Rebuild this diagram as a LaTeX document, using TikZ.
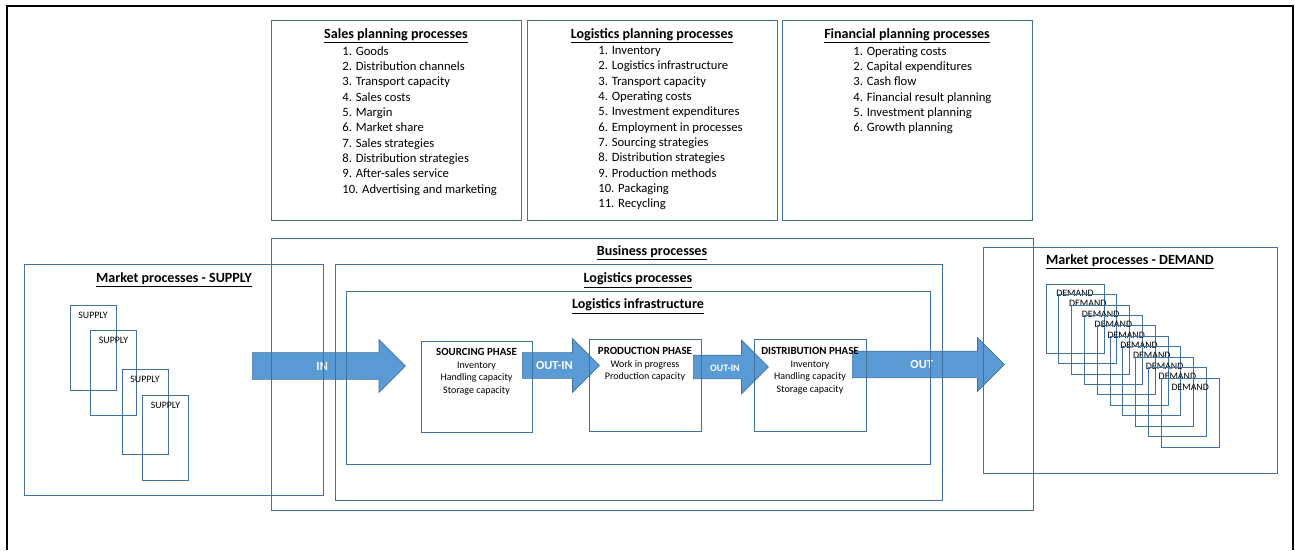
\documentclass[tikz,border=0pt]{standalone}
\usepackage{fontspec}
\setmainfont{Carlito}
\usetikzlibrary{shapes.arrows}

\definecolor{lineblue}{RGB}{65,113,156}
\definecolor{arrowblue}{RGB}{91,155,213}

\tikzstyle{box}=[rectangle,draw=lineblue,line width=0.45pt,inner sep=0pt]
\tikzstyle{title}=[anchor=base,inner sep=0pt,font=\bfseries\fontsize{8}{9.6}\selectfont]
\tikzstyle{items}=[anchor=north west,align=left,inner sep=0pt,font=\fontsize{7.2}{8.72}\selectfont]
\tikzstyle{phase}=[anchor=north,align=center,inner sep=0pt,font=\fontsize{5.7}{7.2}\selectfont]
\tikzstyle{tag}=[anchor=north,inner sep=0pt,font=\fontsize{5.6}{6}\selectfont]
\tikzstyle{flow}=[single arrow,fill=arrowblue,draw=lineblue,line width=0.4pt,anchor=tail,inner xsep=0pt,inner ysep=1.8mm,text height=1.6mm,text depth=0mm,text=white,font=\bfseries\fontsize{7}{8}\selectfont]

\begin{document}
\begin{tikzpicture}[x=0.2mm,y=-0.2mm]
\useasboundingbox (0,0) rectangle (1295,550);
\draw[line width=1.1pt] (7,550) |- (1293,6) -- (1293,550);

% flows between the phases
\node[flow,minimum height=30.6mm,single arrow head extend=2.6mm] (in) at (252,366) {IN};
\node[flow,minimum height=15.4mm,inner ysep=1.7mm,single arrow head extend=2.8mm] (outin1) at (522,365.5) {OUT-IN};
\node[flow,minimum height=15mm,inner ysep=1.5mm,single arrow head extend=3mm,font=\bfseries\fontsize{5.6}{6}\selectfont] (outin2) at (693,367) {OUT-IN};
\node[flow,minimum height=30.4mm,single arrow head extend=2.7mm] (out) at (852,364.5) {OUT};

% planning processes
\node[box,minimum width=50mm,minimum height=40mm] (sales) at (396,120) {};
\node[title] (salesT) at (396,38) {\underline{Sales planning processes}};
\node[items] (salesL) at (342,46) {1. Goods\\2. Distribution channels\\3. Transport capacity\\4. Sales costs\\5. Margin\\6. Market share\\7. Sales strategies\\8. Distribution strategies\\9. After-sales service\\10. Advertising and marketing};

\node[box,minimum width=50mm,minimum height=40mm] (logplan) at (652,120) {};
\node[title] (logplanT) at (652,38) {\underline{Logistics planning processes}};
\node[items] (logplanL) at (598,46) {1. Inventory\\2. Logistics infrastructure\\3. Transport capacity\\4. Operating costs\\5. Investment expenditures\\6. Employment in processes\\7. Sourcing strategies\\8. Distribution strategies\\9. Production methods\\10. Packaging\\11. Recycling};

\node[box,minimum width=50mm,minimum height=40mm] (finplan) at (907,120) {};
\node[title] (finplanT) at (907,38) {\underline{Financial planning processes}};
\node[items] (finplanL) at (853,46) {1. Operating costs\\2. Capital expenditures\\3. Cash flow\\4. Financial result planning\\5. Investment planning\\6. Growth planning};

% nested process boxes
\node[box,minimum width=152.4mm,minimum height=54.4mm] (business) at (652,374) {};
\node[title] (businessT) at (652,255) {\underline{Business processes}};
\node[box,minimum width=121.4mm,minimum height=47.2mm] (logistics) at (638.5,382) {};
\node[title] (logisticsT) at (638,282) {\underline{Logistics processes}};
\node[box,minimum width=116.8mm,minimum height=34.6mm] (infra) at (638,377.5) {};
\node[title] (infraT) at (638,308) {\underline{Logistics infrastructure}};

\node[box,minimum width=22.2mm,minimum height=18.2mm] (sourcing) at (476.5,386.5) {};
\node[phase] (sourcingT) at (476.5,348) {\textbf{\fontsize{6.2}{7.2}\selectfont SOURCING PHASE}\\Inventory\\Handling capacity\\Storage capacity};
\node[box,minimum width=22.4mm,minimum height=18.4mm] (production) at (645,385) {};
\node[phase] (productionT) at (645,347) {\textbf{\fontsize{6.2}{7.2}\selectfont PRODUCTION PHASE}\\Work in progress\\Production capacity};
\node[box,minimum width=22.4mm,minimum height=18.4mm] (distribution) at (810,385) {};
\node[phase] (distributionT) at (810,347) {\textbf{\fontsize{6.2}{7.2}\selectfont DISTRIBUTION PHASE}\\Inventory\\Handling capacity\\Storage capacity};

% market side
\node[box,minimum width=59.8mm,minimum height=46.2mm] (supply) at (173.5,379.5) {};
\node[title] (supplyT) at (174,282) {\underline{Market processes - SUPPLY}};
\node[box,minimum width=9.2mm,minimum height=17mm,label={[tag,yshift=-1.4mm]north:SUPPLY}] (s1) at (93,347.5) {};
\node[box,minimum width=9.2mm,minimum height=17mm,label={[tag,yshift=-1.4mm]north:SUPPLY}] (s2) at (113.5,373) {};
\node[box,minimum width=9.2mm,minimum height=17mm,label={[tag,yshift=-1.4mm]north:SUPPLY}] (s3) at (145,412) {};
\node[box,minimum width=9.2mm,minimum height=17mm,label={[tag,yshift=-1.4mm]north:SUPPLY}] (s4) at (165.5,438) {};

\node[box,minimum width=58.8mm,minimum height=45.2mm] (demand) at (1130,360) {};
\node[title] (demandT) at (1130,264) {\underline{Market processes - DEMAND}};
\foreach \i in {0,...,9}
  \node[box,minimum width=11.6mm,minimum height=13.8mm,label={[tag,yshift=-1.2mm]north:DEMAND}] (d\i) at (1075+12.8*\i,318.5+10.45*\i) {};
\end{tikzpicture}
\end{document}
